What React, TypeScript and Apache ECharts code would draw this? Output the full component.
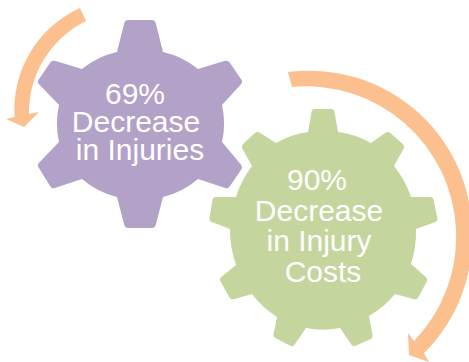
import React, { useEffect, useRef } from "react";
import * as echarts from "echarts";

// Gear outlines: each tooth is [base, tip, tip, base], listed clockwise from the top.
type Pt = [number, number];
const purpleTeeth: Pt[][] = [
  [[117, 52], [125, 20], [155, 20], [163, 52]],
  [[198, 69], [228, 60], [243, 82], [222, 105]],
  [[222, 142], [243, 167], [228, 189], [198, 179]],
  [[163, 197], [155, 228], [125, 228], [117, 197]],
  [[82, 179], [52, 189], [37, 165], [59, 142]],
  [[59, 105], [37, 82], [52, 60], [82, 69]],
];
const greenTeeth: Pt[][] = [
  [[308, 132], [312, 109], [334, 109], [338, 132]],
  [[371, 143], [388, 131], [405, 146], [394, 166]],
  [[411, 197], [433, 197], [438, 221], [416, 229]],
  [[411, 264], [428, 279], [417, 300], [395, 294]],
  [[369, 316], [373, 338], [353, 347], [340, 328]],
  [[306, 328], [293, 347], [273, 337], [277, 317]],
  [[252, 294], [231, 300], [219, 279], [236, 265]],
  [[230, 229], [209, 221], [213, 197], [236, 197]],
  [[252, 166], [241, 146], [257, 131], [276, 143]],
];

const purpleValue = 69;
const greenValue = 90;
const purpleLines = [`${purpleValue}%`, "Decrease", "in Injuries"];
const greenLines = [`${greenValue}%`, "Decrease", "in Injury", "Costs"];
const purpleLineAnchors: Pt[] = [[135, 93], [136, 121], [140, 149]];
const greenLineAnchors: Pt[] = [[317, 179], [319, 210], [319, 240], [323, 271]];

const PURPLE = "#b3a2c7";
const GREEN = "#c5d59e";
const ORANGE = "#fbc08e";

// Builds a closed outline: rounded tooth tips joined by body arcs.
function gearPath(teeth: Pt[][], rx: number, ry: number): string {
  const r = 3;
  const toward = (a: Pt, b: Pt, d: number): Pt => {
    const len = Math.hypot(b[0] - a[0], b[1] - a[1]);
    return [a[0] + ((b[0] - a[0]) * d) / len, a[1] + ((b[1] - a[1]) * d) / len];
  };
  let d = "";
  teeth.forEach(([b0, t0, t1, b1], i) => {
    const p1 = toward(t0, b0, r);
    const p2 = toward(t0, t1, r);
    const p3 = toward(t1, t0, r);
    const p4 = toward(t1, b1, r);
    d += i === 0 ? `M${b0[0]} ${b0[1]}` : `A${rx} ${ry} 0 0 1 ${b0[0]} ${b0[1]}`;
    d += `L${p1[0]} ${p1[1]}Q${t0[0]} ${t0[1]} ${p2[0]} ${p2[1]}`;
    d += `L${p3[0]} ${p3[1]}Q${t1[0]} ${t1[1]} ${p4[0]} ${p4[1]}`;
    d += `L${b1[0]} ${b1[1]}`;
  });
  const first = teeth[0][0];
  return d + `A${rx} ${ry} 0 0 1 ${first[0]} ${first[1]}Z`;
}

const smallArrowPath =
  "M80 8A112 112 0 0 0 14.5 117L6 119L24 127L39 112L29 114A102 102 0 0 1 86 21Z";
const bigArrowPath =
  "M288 72A163 163 0 0 1 472 228A163 163 0 0 1 424 353L429 362L409 355L408 333L414 341" +
  "A150 150 0 0 0 456 230A150 150 0 0 0 292 87Z";

echarts.graphic.registerShape("gearPurple", echarts.graphic.extendPath(gearPath(purpleTeeth, 84, 84), {}) as any);
echarts.graphic.registerShape("gearGreen", echarts.graphic.extendPath(gearPath(greenTeeth, 93, 99), {}) as any);
echarts.graphic.registerShape("arrowSmall", echarts.graphic.extendPath(smallArrowPath, {}) as any);
echarts.graphic.registerShape("arrowBig", echarts.graphic.extendPath(bigArrowPath, {}) as any);

const textItems = (lines: string[], anchors: Pt[]) =>
  lines.map((line, i) => ({
    type: "text",
    x: anchors[i][0],
    y: anchors[i][1],
    z: 5,
    style: {
      text: line,
      fill: "#ffffff",
      font: '30px "Liberation Sans", Arial, sans-serif',
      textAlign: "center",
      textVerticalAlign: "middle",
    },
  }));

export default function App() {
  const ref = useRef<HTMLDivElement>(null);
  useEffect(() => {
    document.body.style.margin = "0";
    const chart = echarts.init(ref.current!, undefined, { renderer: "svg" });
    chart.setOption({
      animation: false,
      backgroundColor: "#ffffff",
      graphic: [
        { type: "arrowBig", x: 0, y: 0, style: { fill: ORANGE } },
        { type: "arrowSmall", x: 0, y: 0, style: { fill: ORANGE } },
        { type: "gearPurple", x: 0, y: 0, style: { fill: PURPLE } },
        { type: "gearGreen", x: 0, y: 0, style: { fill: GREEN } },
        ...textItems(purpleLines, purpleLineAnchors),
        ...textItems(greenLines, greenLineAnchors),
      ],
    });
    return () => chart.dispose();
  }, []);
  return <div ref={ref} style={{ width: 469, height: 362 }} />;
}
